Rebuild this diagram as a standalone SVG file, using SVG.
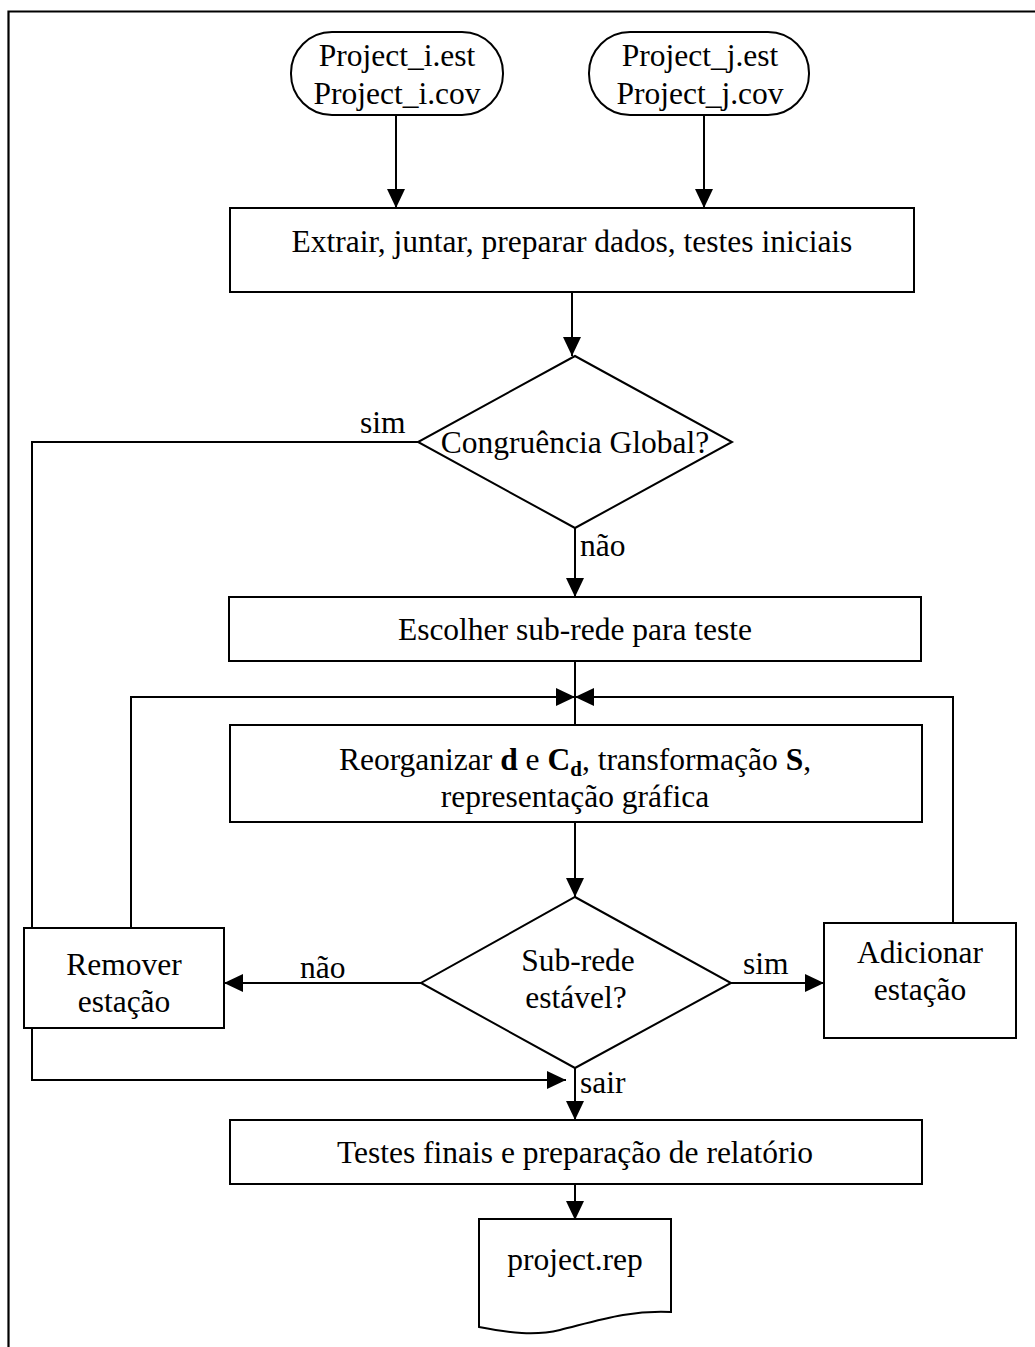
<svg xmlns="http://www.w3.org/2000/svg" width="1035" height="1347" viewBox="0 0 1035 1347">
  <defs>
    <marker id="arrow" markerUnits="userSpaceOnUse" markerWidth="20" markerHeight="19" refX="19" refY="9" orient="auto">
      <path d="M0,0 L19,9 L0,18 Z" fill="#000"/>
    </marker>
  </defs>
  <style>
    .shape { fill: #fff; stroke: #000; stroke-width: 2; }
    .frame { fill: none; stroke: #000; stroke-width: 2.2; }
    .conn { fill: none; stroke: #000; stroke-width: 2; }
    .arr { marker-end: url(#arrow); }
    text { font-family: "Liberation Serif", "Times New Roman", serif; font-size: 31.5px; fill: #000; }
    .c { text-anchor: middle; }
    .b { font-weight: bold; }
  </style>

  <rect width="1035" height="1347" fill="#fff"/>

  <!-- page frame: top and left edges only -->
  <path class="frame" d="M8.5,1347 V11.5 H1035"/>

  <!-- connectors -->
  <g id="connectors">
    <path class="conn arr" d="M396,115 V208"/>
    <path class="conn arr" d="M704,115 V208"/>
    <path class="conn arr" d="M572,292 V356"/>
    <path class="conn arr" d="M418,442 H32 V1080 H566"/>
    <path class="conn arr" d="M575,528 V597"/>
    <path class="conn" d="M575,661 V725"/>
    <path class="conn arr" d="M131,928 V697 H575"/>
    <path class="conn arr" d="M953,923 V697 H575"/>
    <path class="conn arr" d="M575,822 V897"/>
    <path class="conn arr" d="M421,983 H224"/>
    <path class="conn arr" d="M731,983 H824"/>
    <path class="conn arr" d="M575,1068 V1120"/>
    <path class="conn arr" d="M575,1184 V1220"/>
    <text x="360" y="433">sim</text>
    <text x="580" y="556">não</text>
    <text x="300" y="978">não</text>
    <text x="743" y="974">sim</text>
    <text x="580" y="1093">sair</text>
  </g>

  <g id="start-i">
    <rect class="shape" x="291" y="32" width="212" height="83" rx="41" ry="41"/>
    <text class="c" x="397" y="66">Project_i.est</text>
    <text class="c" x="397" y="104">Project_i.cov</text>
  </g>

  <g id="start-j">
    <rect class="shape" x="589" y="32" width="220" height="83" rx="41" ry="41"/>
    <text class="c" x="700" y="66">Project_j.est</text>
    <text class="c" x="700" y="104">Project_j.cov</text>
  </g>

  <g id="prepare">
    <rect class="shape" x="230" y="208" width="684" height="84"/>
    <text class="c" x="572" y="252">Extrair, juntar, preparar dados, testes iniciais</text>
  </g>

  <g id="global-test">
    <polygon class="shape" points="575,356 732,442 575,528 418,442"/>
    <text class="c" x="575" y="453">Congruência Global?</text>
  </g>

  <g id="choose-subnet">
    <rect class="shape" x="229" y="597" width="692" height="64"/>
    <text class="c" x="575" y="640">Escolher sub-rede para teste</text>
  </g>

  <g id="reorganize">
    <rect class="shape" x="230" y="725" width="692" height="97"/>
    <text class="c" x="575" y="770">Reorganizar <tspan class="b">d</tspan> e <tspan class="b">C</tspan><tspan class="b" font-size="21" dy="6">d</tspan><tspan dy="-6">, transformação </tspan><tspan class="b">S</tspan>,</text>
    <text class="c" x="575" y="807">representação gráfica</text>
  </g>

  <g id="subnet-test">
    <polygon class="shape" points="575,897 731,983 575,1068 421,983"/>
    <text class="c" x="578" y="971">Sub-rede</text>
    <text class="c" x="576" y="1008">estável?</text>
  </g>

  <g id="remove-station">
    <rect class="shape" x="24" y="928" width="200" height="100"/>
    <text class="c" x="124" y="975">Remover</text>
    <text class="c" x="124" y="1012">estação</text>
  </g>

  <g id="add-station">
    <rect class="shape" x="824" y="923" width="192" height="115"/>
    <text class="c" x="920" y="963">Adicionar</text>
    <text class="c" x="920" y="1000">estação</text>
  </g>

  <g id="final-tests">
    <rect class="shape" x="230" y="1120" width="692" height="64"/>
    <text class="c" x="575" y="1163">Testes finais e preparação de relatório</text>
  </g>

  <g id="report">
    <path class="shape" d="M479,1219 H671 V1312 C630,1310 600,1320 560,1330 C535,1336 510,1333 479,1327 Z"/>
    <text class="c" x="575" y="1270">project.rep</text>
  </g>
</svg>
